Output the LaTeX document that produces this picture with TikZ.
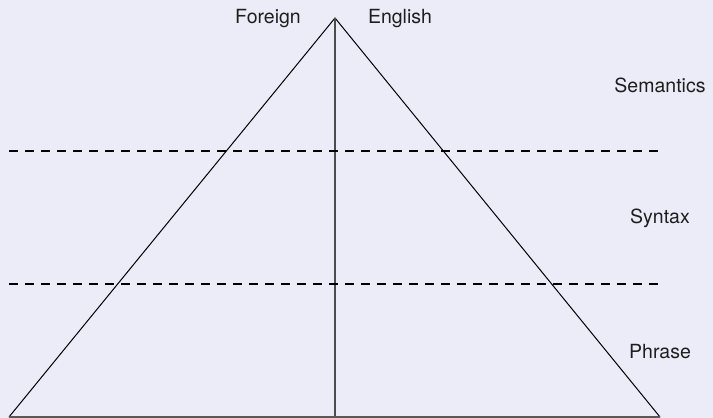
\documentclass[tikz,border=0pt]{standalone}
\usepackage{fontspec}
\setmainfont{TeX Gyre Heros}
\definecolor{bgcol}{RGB}{236,236,248}
\definecolor{txtcol}{RGB}{30,30,30}
\begin{document}
\begin{tikzpicture}[x=1pt,y=-1pt,
  lbl/.style={font=\fontsize{19.5}{22}\selectfont, text=txtcol, inner sep=0pt, anchor=center},
  side/.style={draw=black, line width=1pt},
  stem/.style={draw=black!70, line width=1.6pt},
  sep/.style={draw=black, line width=1.3pt, dash pattern=on 9pt off 7pt}]
\fill[bgcol] (0,0) rectangle (713,418);
\useasboundingbox (0,0) rectangle (713,418);
\coordinate (apex) at (335,18);
\coordinate (bl) at (9,417);
\coordinate (br) at (660,417);
\coordinate (bm) at (335,418);
\coordinate (s1a) at (9,151);
\coordinate (s1b) at (660,151);
\coordinate (s2a) at (9,284);
\coordinate (s2b) at (660,284);
\draw[side] (bl) -- (apex) -- (br);
\draw[stem] (apex) -- (bm);
\draw[black!65, line width=2pt] (bl) -- (br);
\draw[sep] (s1a) -- (s1b);
\draw[sep] (s2a) -- (s2b);
\node[lbl] (foreign) at (268,19) {Foreign};
\node[lbl] (english) at (400,19) {English};
\node[lbl] (sem) at (660,85) {Semantics};
\node[lbl] (syn) at (660,218) {Syntax};
\node[lbl] (phr) at (660,352) {Phrase};
\end{tikzpicture}
\end{document}
